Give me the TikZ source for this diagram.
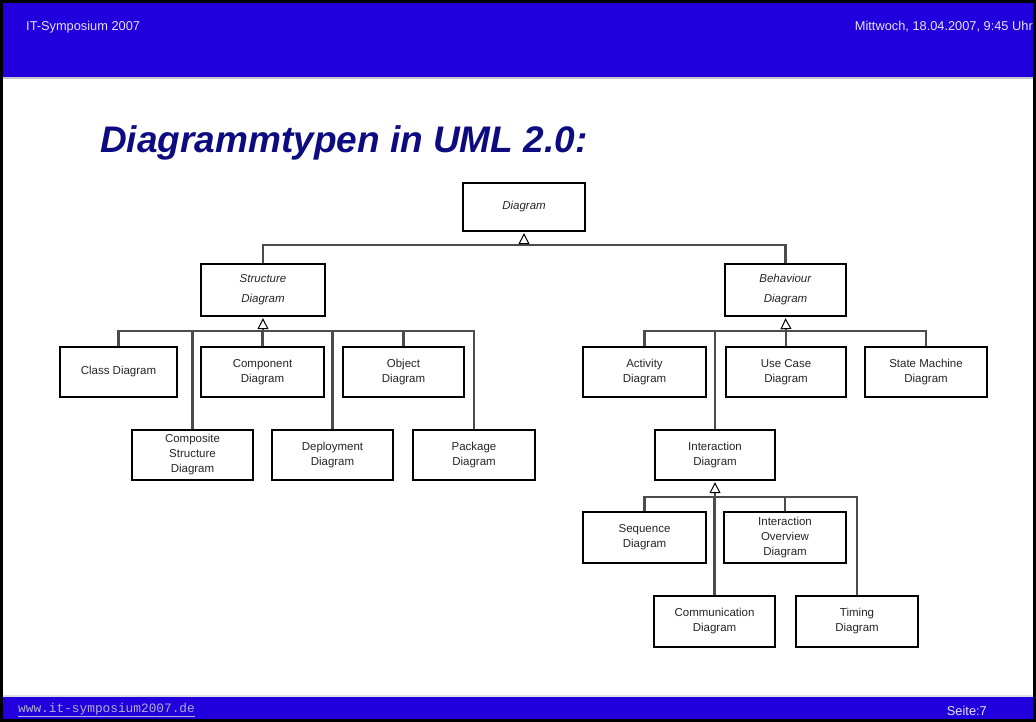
\documentclass[tikz,border=0pt]{standalone}
\usepackage{fontspec}
\setmainfont{Liberation Sans}
\newfontfamily\urlfont{Liberation Mono}
\usetikzlibrary{arrows.meta}
\definecolor{hdrblue}{RGB}{34,0,221}
\definecolor{titlenavy}{RGB}{12,12,128}
\definecolor{hdrtext}{RGB}{228,228,250}
\definecolor{urltext}{RGB}{175,175,215}
\begin{document}
\begin{tikzpicture}[x=1pt,y=-1pt,
  box/.style={draw=black, line width=1.3pt, fill=white, inner sep=0pt, align=center,
    text=black!85, font=\fontsize{11.5}{15}\selectfont,
    minimum width=122pt, minimum height=50pt},
  conn/.style={draw=black!70, line width=2.7pt},
  gen/.style={draw=black!70, line width=2.4pt, shorten >=1.5pt,
    -{Triangle[open, length=11pt, width=11pt, line width=1pt, color=black]}},
  hdr/.style={inner sep=0pt, text=hdrtext, font=\fontsize{12.8}{15}\selectfont}
]
\useasboundingbox (0,0) rectangle (1036,722);
% frame, header and footer bands
\fill[black] (0,0) rectangle (1036,722);
\fill[white] (3,3) rectangle (1033,719);
\fill[hdrblue] (3,3) rectangle (1033,77);
\fill[black!22] (3,77) rectangle (1033,79);
\fill[black!12] (3,695) rectangle (1033,697);
\fill[hdrblue] (3,697) rectangle (1033,719);

\node[hdr, anchor=west] (event) at (26,27) {IT-Symposium 2007};
\node[hdr, anchor=east] (date) at (1033,27) {Mittwoch, 18.04.2007, 9:45 Uhr};
\node[anchor=west, inner sep=0pt, text=urltext] (url) at (18,710)
  {\urlfont\fontsize{12.8}{14}\selectfont\underline{www.it-symposium2007.de}};
\node[hdr, anchor=east] (page) at (987,711) {Seite:7};

\node[anchor=base west, inner sep=0pt, text=titlenavy,
  font=\bfseries\itshape\fontsize{37}{44}\selectfont] (title) at (100,153)
  {Diagrammtypen in UML 2.0:};

% boxes
\node[box, minimum height=48pt] (diag) at (524,207) {\textit{Diagram}};
\node[box, minimum width=124pt, minimum height=52pt, font=\fontsize{11.5}{20}\selectfont] (struct) at (263,290) {\textit{Structure}\\\textit{Diagram}};
\node[box, minimum width=121pt, minimum height=52pt, font=\fontsize{11.5}{20}\selectfont] (behav) at (785.5,290) {\textit{Behaviour}\\\textit{Diagram}};

\node[box, minimum width=117pt] (class) at (118.5,372) {Class Diagram};
\node[box, minimum width=123pt] (comp) at (262.5,372) {Component\\Diagram};
\node[box, minimum width=121pt] (obj) at (403.5,372) {Object\\Diagram};
\node[box, minimum width=121pt] (composite) at (192.5,455) {Composite\\Structure\\Diagram};
\node[box, minimum width=121pt] (deploy) at (332.5,455) {Deployment\\Diagram};
\node[box, minimum width=122pt] (pkg) at (474,455) {Package\\Diagram};

\node[box, minimum width=123pt] (activity) at (644.5,372) {Activity\\Diagram};
\node[box, minimum width=120pt] (usecase) at (786,372) {Use Case\\Diagram};
\node[box, minimum width=122pt] (statem) at (926,372) {State Machine\\Diagram};
\node[box, minimum width=120pt] (inter) at (715,455) {Interaction\\Diagram};

\node[box, minimum width=123pt, minimum height=51pt] (seq) at (644.5,537.5) {Sequence\\Diagram};
\node[box, minimum width=122pt, minimum height=51pt] (overview) at (785,537.5) {Interaction\\Overview\\Diagram};
\node[box, minimum width=121pt, minimum height=51pt] (commun) at (714.5,621.5) {Communication\\Diagram};
\node[box, minimum width=122pt, minimum height=51pt] (timing) at (857,621.5) {Timing\\Diagram};

% generalization trees
\coordinate (busD) at (524,245);
\coordinate (busS) at (263,331);
\coordinate (busB) at (786,331);
\coordinate (busI) at (715,497);

\foreach \c in {struct,behav} \draw[conn] (\c.north) |- (busD);
\draw[gen] (busD) -- (diag.south);

\foreach \c in {class,comp,obj,composite,deploy,pkg} \draw[conn] (\c.north) |- (busS);
\draw[gen] (busS) -- (struct.south);

\foreach \c in {activity,usecase,statem,inter} \draw[conn] (\c.north) |- (busB);
\draw[gen] (busB) -- (behav.south);

\foreach \c in {seq,overview,commun,timing} \draw[conn] (\c.north) |- (busI);
\draw[gen] (busI) -- (inter.south);
\end{tikzpicture}
\end{document}
